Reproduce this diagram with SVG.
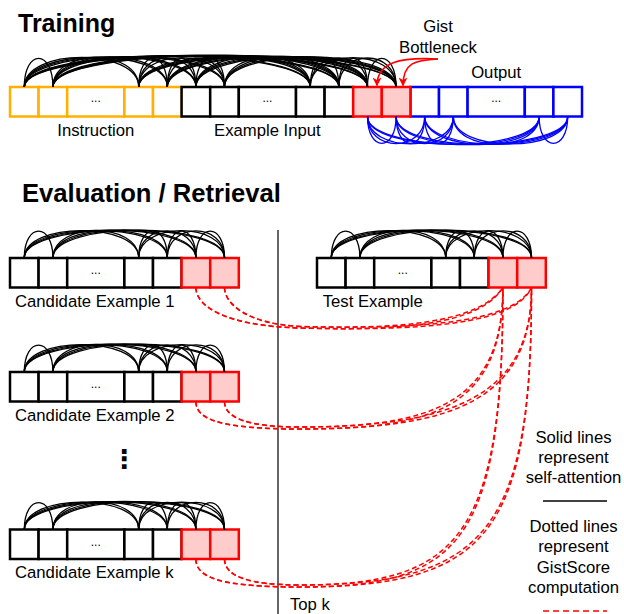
<svg xmlns="http://www.w3.org/2000/svg" xmlns:xlink="http://www.w3.org/1999/xlink" width="624" height="614" viewBox="0 0 624 614">
<style>
 text { font-family: "Liberation Sans", Arial, sans-serif; fill:#000; }
 .lbl { font-size:16.7px; }
 .mid { text-anchor:middle; }
 .title { font-size:25px; font-weight:bold; }
 .dots { font-size:12px; text-anchor:middle; }
 .c { fill:#fff; stroke-width:2.5; }
 .k { stroke:#000; }
 .o { stroke:#FFB000; }
 .b { stroke:#0000FF; }
 .r { stroke:#FF0000; fill:#FFCCCC; }
 .arc { fill:none; stroke:#000; stroke-width:1.3; }
 .barc { fill:none; stroke:#0000FF; stroke-width:1.3; }
 .dash { fill:none; stroke:#FF0000; stroke-width:1.5; stroke-dasharray:5 3; }
 .garrow { fill:none; stroke:#FF0000; stroke-width:1.6; }
</style>
<defs>
 <marker id="ah" viewBox="0 0 10 10" refX="9" refY="5" markerWidth="9" markerHeight="9" markerUnits="userSpaceOnUse" orient="auto">
  <path d="M0,0 L10,5 L0,10 L3,5 z" fill="#FF0000"/>
 </marker>
 <g id="seq">
  <rect class="c k" x="0" y="0" width="28.6" height="29.5"/>
  <rect class="c k" x="28.6" y="0" width="28.6" height="29.5"/>
  <rect class="c k" x="57.2" y="0" width="57.2" height="29.5"/>
  <rect class="c k" x="114.4" y="0" width="28.6" height="29.5"/>
  <rect class="c k" x="143" y="0" width="28.6" height="29.5"/>
  <rect class="c r" x="171.6" y="0" width="28.6" height="29.5"/>
  <rect class="c r" x="200.2" y="0" width="28.6" height="29.5"/>
  <text class="dots" x="85.8" y="16">...</text>
  <g class="arc">
   <path d="M14.3 0C14.3 -35.8 42.9 -35.8 42.9 0"/>
   <path d="M14.3 0C14.3 -36.6 128.7 -36.6 128.7 0"/>
   <path d="M14.3 0C14.3 -36.9 157.3 -36.9 157.3 0"/>
   <path d="M14.3 0C14.3 -37.2 185.9 -37.2 185.9 0"/>
   <path d="M14.3 0C14.3 -37.5 214.5 -37.5 214.5 0"/>
   <path d="M42.9 0C42.9 -36.4 128.7 -36.4 128.7 0"/>
   <path d="M42.9 0C42.9 -36.6 157.3 -36.6 157.3 0"/>
   <path d="M42.9 0C42.9 -36.9 185.9 -36.9 185.9 0"/>
   <path d="M42.9 0C42.9 -37.2 214.5 -37.2 214.5 0"/>
   <path d="M128.7 0C128.7 -35.8 157.3 -35.8 157.3 0"/>
   <path d="M128.7 0C128.7 -36.1 185.9 -36.1 185.9 0"/>
   <path d="M128.7 0C128.7 -36.4 214.5 -36.4 214.5 0"/>
   <path d="M157.3 0C157.3 -35.8 185.9 -35.8 185.9 0"/>
   <path d="M157.3 0C157.3 -36.1 214.5 -36.1 214.5 0"/>
   <path d="M185.9 0C185.9 -35.8 214.5 -35.8 214.5 0"/>
  </g>
 </g>
</defs>

<rect x="0" y="0" width="624" height="614" fill="#fff"/>

<text class="title" x="18" y="32">Training</text>
<text class="title" x="22" y="202" style="font-size:25.6px">Evaluation / Retrieval</text>

<!-- Training sequence -->
<g id="instruction">
 <rect class="c o" x="10" y="87" width="28.6" height="29.5"/>
 <rect class="c o" x="38.6" y="87" width="28.6" height="29.5"/>
 <rect class="c o" x="67.2" y="87" width="57.2" height="29.5"/>
 <rect class="c o" x="124.4" y="87" width="28.6" height="29.5"/>
 <rect class="c o" x="153" y="87" width="28.6" height="29.5"/>
 <text class="dots" x="95.8" y="102">...</text>
 <text class="lbl mid" x="95.8" y="136">Instruction</text>
</g>
<g id="example-input">
 <rect class="c k" x="181.6" y="87" width="28.6" height="29.5"/>
 <rect class="c k" x="210.2" y="87" width="28.6" height="29.5"/>
 <rect class="c k" x="238.8" y="87" width="57.2" height="29.5"/>
 <rect class="c k" x="296" y="87" width="28.6" height="29.5"/>
 <rect class="c k" x="324.6" y="87" width="28.6" height="29.5"/>
 <text class="dots" x="267.4" y="102">...</text>
 <text class="lbl mid" x="267.4" y="136">Example Input</text>
</g>
<g id="output">
 <rect class="c b" x="410.4" y="87" width="28.6" height="29.5"/>
 <rect class="c b" x="439" y="87" width="28.6" height="29.5"/>
 <rect class="c b" x="467.6" y="87" width="57.2" height="29.5"/>
 <rect class="c b" x="524.8" y="87" width="28.6" height="29.5"/>
 <rect class="c b" x="553.4" y="87" width="28.6" height="29.5"/>
 <text class="dots" x="496.2" y="102">...</text>
 <text class="lbl mid" x="496.2" y="78">Output</text>
</g>
<g id="gist-tokens">
 <rect class="c r" x="353.2" y="87" width="28.6" height="29.5"/>
 <rect class="c r" x="381.8" y="87" width="28.6" height="29.5"/>
 <text class="lbl mid" x="438" y="32">Gist</text>
 <text class="lbl mid" x="438" y="53">Bottleneck</text>
</g>

<g id="training-attention" class="arc">
 <path d="M24.3 87C24.3 48.7 52.9 48.7 52.9 87"/>
 <path d="M24.3 87C24.3 47.6 138.7 47.6 138.7 87"/>
 <path d="M24.3 87C24.3 47.3 167.3 47.3 167.3 87"/>
 <path d="M24.3 87C24.3 46.9 195.9 46.9 195.9 87"/>
 <path d="M24.3 87C24.3 46.6 224.5 46.6 224.5 87"/>
 <path d="M24.3 87C24.3 45.6 310.3 45.6 310.3 87"/>
 <path d="M24.3 87C24.3 45.2 338.9 45.2 338.9 87"/>
 <path d="M24.3 87C24.3 44.9 367.5 44.9 367.5 87"/>
 <path d="M24.3 87C24.3 44.5 396.1 44.5 396.1 87"/>
 <path d="M52.9 87C52.9 48 138.7 48 138.7 87"/>
 <path d="M52.9 87C52.9 47.6 167.3 47.6 167.3 87"/>
 <path d="M52.9 87C52.9 47.3 195.9 47.3 195.9 87"/>
 <path d="M52.9 87C52.9 46.9 224.5 46.9 224.5 87"/>
 <path d="M52.9 87C52.9 45.9 310.3 45.9 310.3 87"/>
 <path d="M52.9 87C52.9 45.6 338.9 45.6 338.9 87"/>
 <path d="M52.9 87C52.9 45.2 367.5 45.2 367.5 87"/>
 <path d="M52.9 87C52.9 44.9 396.1 44.9 396.1 87"/>
 <path d="M138.7 87C138.7 48.7 167.3 48.7 167.3 87"/>
 <path d="M138.7 87C138.7 48.3 195.9 48.3 195.9 87"/>
 <path d="M138.7 87C138.7 48 224.5 48 224.5 87"/>
 <path d="M138.7 87C138.7 46.9 310.3 46.9 310.3 87"/>
 <path d="M138.7 87C138.7 46.6 338.9 46.6 338.9 87"/>
 <path d="M138.7 87C138.7 46.3 367.5 46.3 367.5 87"/>
 <path d="M138.7 87C138.7 45.9 396.1 45.9 396.1 87"/>
 <path d="M167.3 87C167.3 48.7 195.9 48.7 195.9 87"/>
 <path d="M167.3 87C167.3 48.3 224.5 48.3 224.5 87"/>
 <path d="M167.3 87C167.3 47.3 310.3 47.3 310.3 87"/>
 <path d="M167.3 87C167.3 46.9 338.9 46.9 338.9 87"/>
 <path d="M167.3 87C167.3 46.6 367.5 46.6 367.5 87"/>
 <path d="M167.3 87C167.3 46.3 396.1 46.3 396.1 87"/>
 <path d="M195.9 87C195.9 48.7 224.5 48.7 224.5 87"/>
 <path d="M195.9 87C195.9 47.6 310.3 47.6 310.3 87"/>
 <path d="M195.9 87C195.9 47.3 338.9 47.3 338.9 87"/>
 <path d="M195.9 87C195.9 46.9 367.5 46.9 367.5 87"/>
 <path d="M195.9 87C195.9 46.6 396.1 46.6 396.1 87"/>
 <path d="M224.5 87C224.5 48 310.3 48 310.3 87"/>
 <path d="M224.5 87C224.5 47.6 338.9 47.6 338.9 87"/>
 <path d="M224.5 87C224.5 47.3 367.5 47.3 367.5 87"/>
 <path d="M224.5 87C224.5 46.9 396.1 46.9 396.1 87"/>
 <path d="M310.3 87C310.3 48.7 338.9 48.7 338.9 87"/>
 <path d="M310.3 87C310.3 48.3 367.5 48.3 367.5 87"/>
 <path d="M310.3 87C310.3 48 396.1 48 396.1 87"/>
 <path d="M338.9 87C338.9 48.7 367.5 48.7 367.5 87"/>
 <path d="M338.9 87C338.9 48.3 396.1 48.3 396.1 87"/>
 <path d="M367.5 87C367.5 48.7 396.1 48.7 396.1 87"/>
</g>
<g id="output-attention" class="barc">
 <path d="M367.5 116.5C367.5 152.3 396.1 152.3 396.1 116.5"/>
 <path d="M367.5 116.5C367.5 152.6 424.7 152.6 424.7 116.5"/>
 <path d="M367.5 116.5C367.5 152.9 453.3 152.9 453.3 116.5"/>
 <path d="M367.5 116.5C367.5 153.7 539.1 153.7 539.1 116.5"/>
 <path d="M367.5 116.5C367.5 154 567.7 154 567.7 116.5"/>
 <path d="M396.1 116.5C396.1 152.3 424.7 152.3 424.7 116.5"/>
 <path d="M396.1 116.5C396.1 152.6 453.3 152.6 453.3 116.5"/>
 <path d="M396.1 116.5C396.1 153.4 539.1 153.4 539.1 116.5"/>
 <path d="M396.1 116.5C396.1 153.7 567.7 153.7 567.7 116.5"/>
 <path d="M424.7 116.5C424.7 152.3 453.3 152.3 453.3 116.5"/>
 <path d="M424.7 116.5C424.7 153.1 539.1 153.1 539.1 116.5"/>
 <path d="M424.7 116.5C424.7 153.4 567.7 153.4 567.7 116.5"/>
 <path d="M453.3 116.5C453.3 152.9 539.1 152.9 539.1 116.5"/>
 <path d="M453.3 116.5C453.3 153.1 567.7 153.1 567.7 116.5"/>
 <path d="M539.1 116.5C539.1 152.3 567.7 152.3 567.7 116.5"/>
</g>
<g id="gist-arrows" class="garrow">
 <path d="M438 59C400 57 377 62 377 85.5" marker-end="url(#ah)"/>
 <path d="M438 59C415 60 403 63 403 85.5" marker-end="url(#ah)"/>
</g>

<!-- Evaluation -->
<line x1="278" y1="230" x2="278" y2="614" stroke="#000" stroke-width="1.2"/>

<g id="candidate1">
 <use xlink:href="#seq" href="#seq" transform="translate(10,258)"/>
 <text class="lbl" x="15" y="307">Candidate Example 1</text>
</g>
<g id="candidate2">
 <use xlink:href="#seq" href="#seq" transform="translate(10,372)"/>
 <text class="lbl" x="15" y="421">Candidate Example 2</text>
</g>
<text id="vdots" x="124" y="468" text-anchor="middle" style="font-family:'DejaVu Sans',sans-serif;font-size:26px;font-weight:bold">⋮</text>
<g id="candidatek">
 <use xlink:href="#seq" href="#seq" transform="translate(10,529.5)"/>
 <text class="lbl" x="15" y="578">Candidate Example k</text>
</g>
<g id="test-example">
 <use xlink:href="#seq" href="#seq" transform="translate(317,258)"/>
 <text class="lbl" x="322.7" y="306.5">Test Example</text>
</g>
<text class="lbl" x="290" y="609.5">Top k</text>

<g id="connectors" class="dash">
 <path d="M195.9 287.5C195.9 306 225 326 300 328C400 331 480 325 502.9 287.5"/>
 <path d="M224.5 287.5C224.5 304 248 324 300 326.5C400 329.5 478 323 502.9 287.5"/>
 <path d="M195.9 287.5C195.9 306 225 326 300 328C420 331 515 325 531.5 287.5"/>
 <path d="M224.5 287.5C224.5 304 248 324 300 326.5C420 329.5 513 323 531.5 287.5"/>
 <path d="M195.9 401.5C195.9 420 222 429 300 429C430 429 502.9 410 502.9 287.5"/>
 <path d="M224.5 401.5C224.5 418 248 427 300 427C428 427 502.9 406 502.9 287.5"/>
 <path d="M195.9 401.5C195.9 420 222 429 300 429C455 429 531.5 400 531.5 287.5"/>
 <path d="M224.5 401.5C224.5 418 248 427 300 427C453 427 531.5 396 531.5 287.5"/>
 <path d="M195.9 559C195.9 578 222 587 300 587C460 587 502.9 542 502.9 287.5"/>
 <path d="M224.5 559C224.5 576 248 585 300 585C458 585 502.9 538 502.9 287.5"/>
 <path d="M195.9 559C195.9 578 222 587 300 587C490 587 531.5 532 531.5 287.5"/>
 <path d="M224.5 559C224.5 576 248 585 300 585C488 585 531.5 528 531.5 287.5"/>
</g>

<g id="legend">
 <text class="lbl mid" x="573.5" y="443.3">Solid lines</text>
 <text class="lbl mid" x="573.5" y="463.3">represent</text>
 <text class="lbl mid" x="573.5" y="483.3">self-attention</text>
 <line x1="543" y1="501" x2="607" y2="501" stroke="#000" stroke-width="1.3"/>
 <text class="lbl mid" x="573.5" y="531.7">Dotted lines</text>
 <text class="lbl mid" x="573.5" y="551.7">represent</text>
 <text class="lbl mid" x="573.5" y="572.7">GistScore</text>
 <text class="lbl mid" x="573.5" y="592.7">computation</text>
 <line x1="543" y1="611" x2="607" y2="611" stroke="#FF0000" stroke-width="1.5" stroke-dasharray="6 4"/>
</g>
</svg>
